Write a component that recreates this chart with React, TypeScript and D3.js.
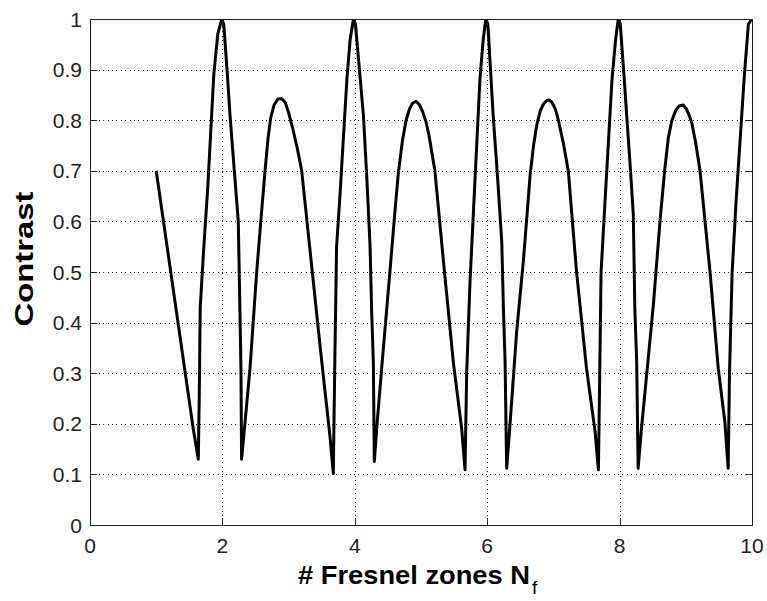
import React from "react";
import * as d3 from "d3";

const nfValues: number[] = [
  1.0, 1.56, 1.636, 1.65, 1.665, 1.71, 1.78, 1.87, 1.93, 1.99,
  2.02, 2.07, 2.115, 2.18, 2.24, 2.266, 2.28, 2.29,
  2.34, 2.417, 2.518, 2.58, 2.644, 2.69, 2.73, 2.78, 2.84, 2.895, 2.95, 3.0, 3.06, 3.13, 3.198,
  3.35, 3.45, 3.52, 3.625, 3.675,
  3.7, 3.725, 3.78, 3.88, 3.93, 3.98,
  4.01, 4.07, 4.13, 4.18, 4.23, 4.255, 4.28, 4.295,
  4.33, 4.406, 4.53, 4.6, 4.657, 4.72, 4.775, 4.825, 4.875, 4.925, 4.975, 5.025, 5.075, 5.125, 5.21,
  5.34, 5.49, 5.615, 5.665,
  5.69, 5.74, 5.8, 5.89, 5.94, 5.98,
  6.01, 6.05, 6.09, 6.16, 6.22, 6.245, 6.27, 6.294,
  6.344, 6.445, 6.545, 6.6, 6.647, 6.7, 6.748, 6.8, 6.85, 6.9, 6.934, 6.98, 7.03, 7.075, 7.15, 7.225,
  7.35, 7.5, 7.63, 7.68,
  7.7, 7.72, 7.78, 7.885, 7.94, 7.98,
  8.01, 8.06, 8.107, 8.16, 8.207, 8.23, 8.258, 8.28,
  8.33, 8.51, 8.61, 8.68, 8.736, 8.79, 8.85, 8.9, 8.96, 9.01, 9.05, 9.09, 9.15, 9.215,
  9.366, 9.49, 9.59, 9.64,
  9.66, 9.7, 9.76, 9.88, 9.945, 10.0,
];

const contrastValues: number[] = [
  0.7, 0.19, 0.13, 0.25, 0.43, 0.53, 0.67, 0.89, 0.97, 1.0,
  0.99, 0.9, 0.81, 0.7, 0.6, 0.415, 0.31, 0.13,
  0.2, 0.31, 0.5, 0.6, 0.7, 0.765, 0.805, 0.83, 0.842, 0.843, 0.835, 0.815, 0.785, 0.745, 0.7,
  0.51, 0.385, 0.3, 0.175, 0.102,
  0.34, 0.55, 0.66, 0.88, 0.96, 1.0,
  0.99, 0.9, 0.81, 0.69, 0.553, 0.42, 0.323, 0.125,
  0.19, 0.31, 0.5, 0.61, 0.695, 0.76, 0.8, 0.822, 0.834, 0.837, 0.831, 0.817, 0.797, 0.767, 0.7,
  0.52, 0.32, 0.19, 0.109,
  0.3, 0.48, 0.64, 0.88, 0.96, 1.0,
  0.99, 0.9, 0.81, 0.68, 0.56, 0.428, 0.323, 0.112,
  0.198, 0.382, 0.52, 0.61, 0.69, 0.75, 0.79, 0.818, 0.832, 0.839, 0.84, 0.835, 0.822, 0.8, 0.755, 0.7,
  0.5, 0.31, 0.184, 0.109,
  0.3, 0.5, 0.64, 0.88, 0.96, 1.0,
  0.99, 0.9, 0.81, 0.71, 0.613, 0.428, 0.323, 0.112,
  0.19, 0.435, 0.6, 0.7, 0.765, 0.8, 0.82, 0.828, 0.83, 0.822, 0.81, 0.795, 0.755, 0.7,
  0.5, 0.31, 0.204, 0.112,
  0.3, 0.5, 0.64, 0.88, 0.99, 1.0,
];

const xTickValues: number[] = [0, 2, 4, 6, 8, 10];
const yTickValues: number[] = [0, 0.1, 0.2, 0.3, 0.4, 0.5, 0.6, 0.7, 0.8, 0.9, 1];
const yTickLabels: string[] = ["0", "0.1", "0.2", "0.3", "0.4", "0.5", "0.6", "0.7", "0.8", "0.9", "1"];
const xTitle = "# Fresnel zones N";
const xTitleSub = "f";
const yTitle = "Contrast";

const W = 767;
const H = 601;
const L = 90;
const R = 752;
const T = 19;
const B = 525;

export default function App() {
  const x = d3.scaleLinear().domain([0, 10]).range([L, R]);
  const y = d3.scaleLinear().domain([0, 1]).range([B, T]);
  const pts: [number, number][] = nfValues.map((v, i) => [v, contrastValues[i]]);
  const line = d3
    .line<[number, number]>()
    .x((d) => x(d[0]))
    .y((d) => y(d[1]));
  const tickLen = 7;
  const font = "Arial, 'Liberation Sans', Helvetica, sans-serif";
  return (
    <svg
      width={W}
      height={H}
      style={{ position: "absolute", left: 0, top: 0, background: "#fff" }}
    >
      <rect x={0} y={0} width={W} height={H} fill="#fff" />
      <defs>
        <clipPath id="plotclip">
          <rect x={L} y={T} width={R - L} height={B - T} />
        </clipPath>
      </defs>
      {/* grid */}
      <g stroke="#222" strokeWidth={1} strokeDasharray="1 3.4" shapeRendering="crispEdges">
        {xTickValues
          .filter((v) => v > 0 && v < 10)
          .map((v) => (
            <line key={"gx" + v} x1={Math.round(x(v)) + 0.5} x2={Math.round(x(v)) + 0.5} y1={B} y2={T} />
          ))}
        {yTickValues
          .filter((v) => v > 0 && v < 1)
          .map((v) => (
            <line key={"gy" + v} x1={L} x2={R} y1={Math.round(y(v)) + 0.5} y2={Math.round(y(v)) + 0.5} />
          ))}
      </g>
      {/* curve */}
      <path
        d={line(pts) || ""}
        fill="none"
        stroke="#000"
        strokeWidth={3}
        strokeLinejoin="round"
        clipPath="url(#plotclip)"
      />
      {/* frame */}
      <rect x={L + 0.5} y={T + 0.5} width={R - L} height={B - T} fill="none" stroke="#222" strokeWidth={1} shapeRendering="crispEdges" />
      {/* ticks */}
      <g stroke="#222" strokeWidth={1} shapeRendering="crispEdges">
        {xTickValues.map((v) => (
          <g key={"tx" + v}>
            <line x1={Math.round(x(v)) + 0.5} x2={Math.round(x(v)) + 0.5} y1={B} y2={B - tickLen} />
            <line x1={Math.round(x(v)) + 0.5} x2={Math.round(x(v)) + 0.5} y1={T} y2={T + tickLen} />
          </g>
        ))}
        {yTickValues.map((v) => (
          <g key={"ty" + v}>
            <line x1={L} x2={L + tickLen} y1={Math.round(y(v)) + 0.5} y2={Math.round(y(v)) + 0.5} />
            <line x1={R} x2={R - tickLen} y1={Math.round(y(v)) + 0.5} y2={Math.round(y(v)) + 0.5} />
          </g>
        ))}
      </g>
      {/* tick labels */}
      <g fontFamily={font} fontSize={21} fill="#222">
        {xTickValues.map((v) => (
          <text key={"lx" + v} x={x(v)} y={553} textAnchor="middle">
            {String(v)}
          </text>
        ))}
        {yTickValues.map((v, i) => (
          <text key={"ly" + v} x={82} y={y(v) + 7.5} textAnchor="end">
            {yTickLabels[i]}
          </text>
        ))}
      </g>
      {/* axis titles */}
      <text x={298} y={584} fontFamily={font} fontSize={25} fontWeight="bold" fill="#000" textLength={232} lengthAdjust="spacingAndGlyphs">
        {xTitle}
      </text>
      <text x={532} y={594} fontFamily={font} fontSize={19} fill="#000">
        {xTitleSub}
      </text>
      <text
        transform={`translate(33, 259) rotate(-90)`}
        textAnchor="middle"
        fontFamily={font}
        fontSize={25}
        fontWeight="bold"
        fill="#000"
        textLength={135}
        lengthAdjust="spacingAndGlyphs"
      >
        {yTitle}
      </text>
    </svg>
  );
}
